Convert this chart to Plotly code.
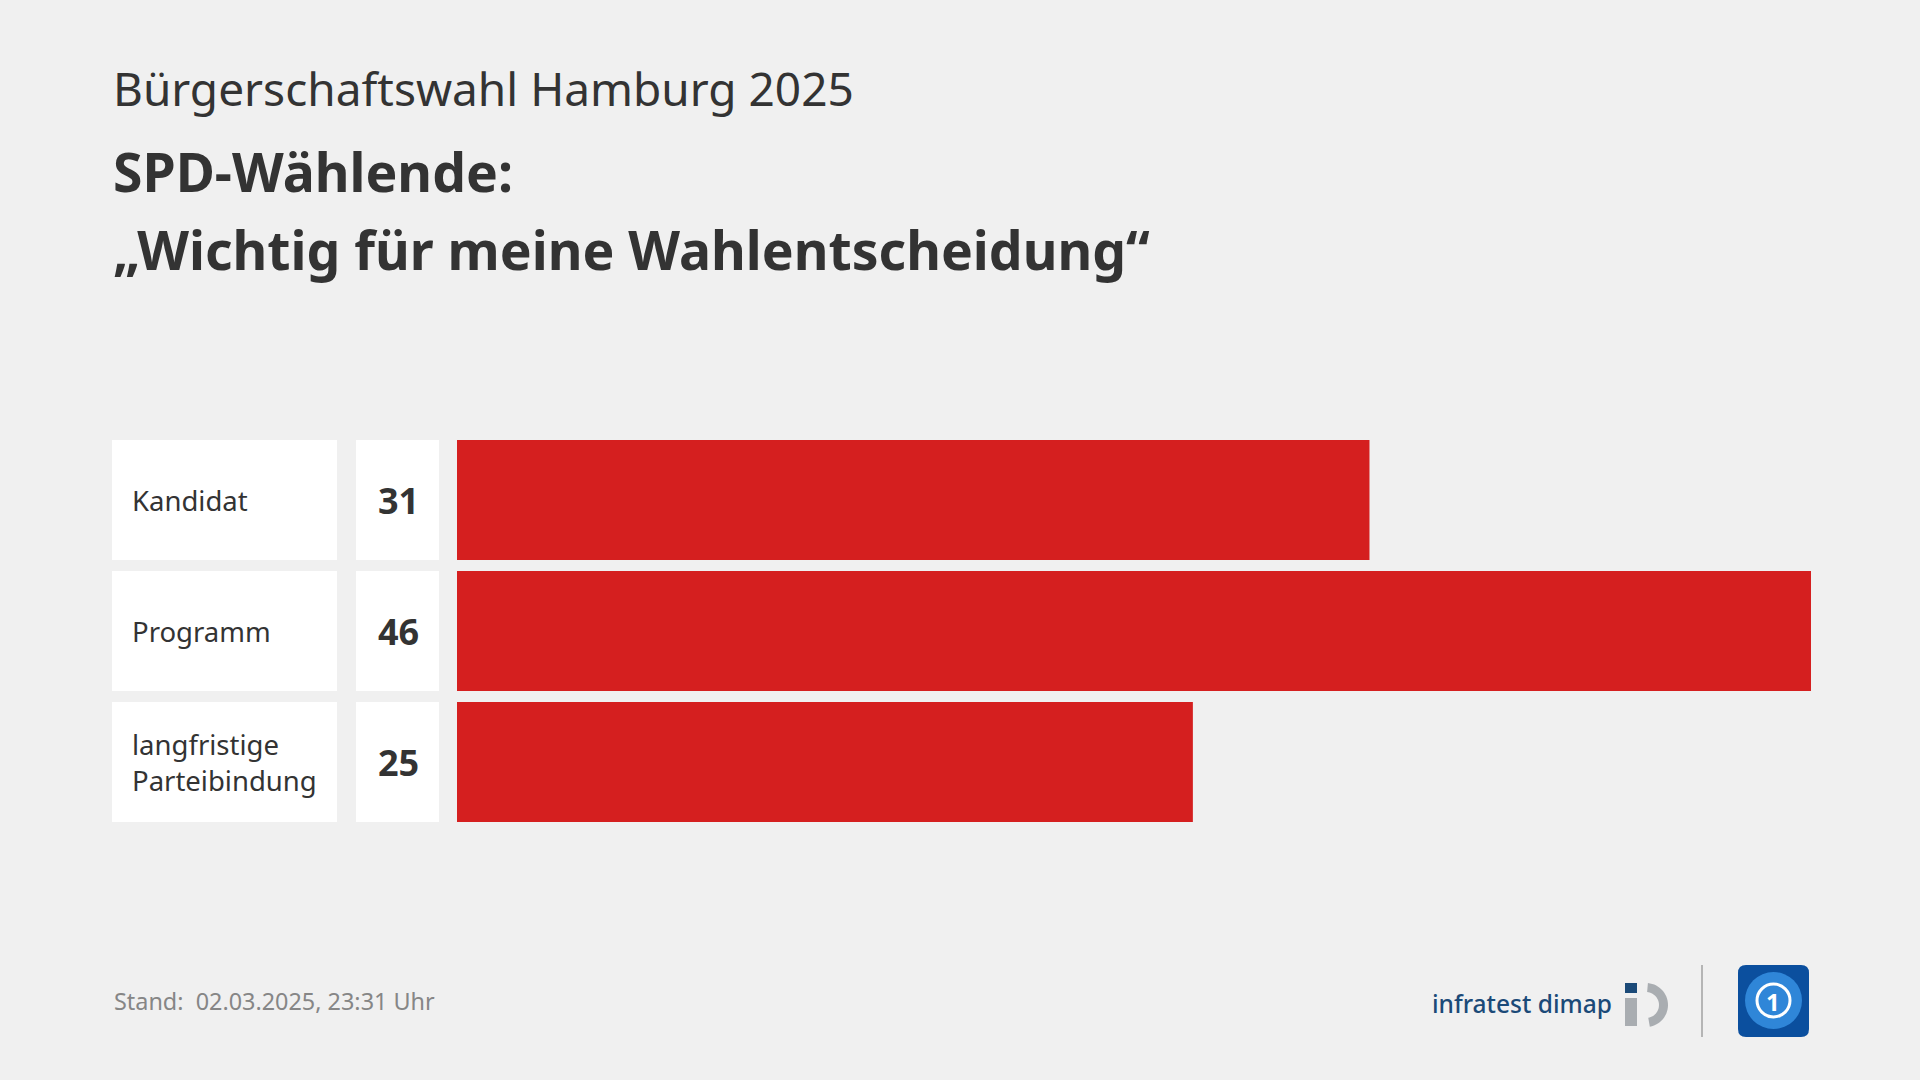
import numpy as np
import plotly.graph_objects as go

# ---------------- data ----------------
categories = ["Kandidat", "Programm", "langfristige<br>Parteibindung"]
values = [31, 46, 25]
value_labels = ["31", "46", "25"]

subtitle = "Bürgerschaftswahl Hamburg 2025"
title_lines = ["SPD-Wählende:", "„Wichtig für meine Wahlentscheidung“"]
footer = "Stand:  02.03.2025, 23:31 Uhr"
brand = "infratest dimap"

# ---------------- style ----------------
W, H = 1920, 1080
BG = "#f0f0f0"
RED = "#d51f1f"
TXT = "#333333"
FONT = "Noto Sans"


def px(x):
    return x / W


def py(y):
    return 1 - y / H


fig = go.Figure()

# white label boxes
fig.add_trace(go.Bar(y=categories, x=[1] * len(categories), orientation="h",
                     marker=dict(color="white", line=dict(width=0)),
                     xaxis="x2", yaxis="y", hoverinfo="skip", showlegend=False))
# white number boxes
fig.add_trace(go.Bar(y=categories, x=[1] * len(categories), orientation="h",
                     marker=dict(color="white", line=dict(width=0)),
                     xaxis="x3", yaxis="y", hoverinfo="skip", showlegend=False))
# value bars
fig.add_trace(go.Bar(y=categories, x=values, orientation="h",
                     marker=dict(color=RED, line=dict(width=0)),
                     xaxis="x", yaxis="y", hoverinfo="skip", showlegend=False))

annotations = []
# subtitle + title
annotations.append(dict(text=subtitle, x=px(111), y=py(88), xref="paper", yref="paper",
                        xanchor="left", yanchor="middle", showarrow=False,
                        font=dict(family=FONT, size=46, color=TXT)))
for i, line in enumerate(title_lines):
    annotations.append(dict(text="<b>" + line + "</b>", x=px(111), y=py(171 + 78 * i),
                            xref="paper", yref="paper", xanchor="left", yanchor="middle",
                            showarrow=False, font=dict(family=FONT, size=53.5, color=TXT)))

# row labels and numbers
for cat, lab in zip(categories, value_labels):
    annotations.append(dict(text=cat, x=px(130), y=cat, xref="paper", yref="y",
                            xanchor="left", yanchor="middle", align="left", showarrow=False,
                            font=dict(family=FONT, size=27.5, color=TXT)))
    annotations.append(dict(text="<b>" + lab + "</b>", x=px(421), y=cat, xref="paper", yref="y",
                            xanchor="right", yanchor="middle", showarrow=False,
                            font=dict(family=FONT, size=36, color=TXT)))

# footer
annotations.append(dict(text=footer, x=px(112), y=py(1001), xref="paper", yref="paper",
                        xanchor="left", yanchor="middle", showarrow=False,
                        font=dict(family=FONT, size=23.4, color="#868686")))
# brand text
annotations.append(dict(text=brand, x=px(1614), y=py(1003), xref="paper", yref="paper",
                        xanchor="right", yanchor="middle", showarrow=False,
                        font=dict(family=FONT, size=24.5, color="#1b4a78", weight=500)))
# tagesschau "1"
annotations.append(dict(text="<b>1</b>", x=px(1773), y=py(1001), xref="paper", yref="paper",
                        xanchor="center", yanchor="middle", showarrow=False,
                        font=dict(family=FONT, size=24, color="white")))

shapes = []
# infratest logo: blue square, gray stem, gray arc
shapes.append(dict(type="rect", xref="paper", yref="paper", x0=px(1625), x1=px(1637),
                   y0=py(993), y1=py(983), fillcolor="#1b4a78", line=dict(width=0)))
shapes.append(dict(type="rect", xref="paper", yref="paper", x0=px(1625), x1=px(1637),
                   y0=py(1026), y1=py(998), fillcolor="#a9adb1", line=dict(width=0)))
ang = np.linspace(np.deg2rad(-80), np.deg2rad(85), 30)
cx, cy, r_out, r_in = 1646, 1005, 22, 13
outer = [(cx + r_out * np.cos(a), cy - r_out * np.sin(a)) for a in ang]
inner = [(cx + r_in * np.cos(a), cy - r_in * np.sin(a)) for a in ang[::-1]]
pts = outer + inner
path = "M " + " L ".join(f"{px(x):.5f},{py(y):.5f}" for x, y in pts) + " Z"
shapes.append(dict(type="path", xref="paper", yref="paper", path=path,
                   fillcolor="#a9adb1", line=dict(width=0)))
# separator
shapes.append(dict(type="line", xref="paper", yref="paper", x0=px(1702), x1=px(1702),
                   y0=py(965), y1=py(1037), line=dict(color="#b5b5b5", width=2)))
# tagesschau rounded square
x0, x1, y0, y1, rr = 1738, 1809, 965, 1037, 8
rp = (f"M {px(x0+rr)},{py(y0)} L {px(x1-rr)},{py(y0)} Q {px(x1)},{py(y0)} {px(x1)},{py(y0+rr)} "
      f"L {px(x1)},{py(y1-rr)} Q {px(x1)},{py(y1)} {px(x1-rr)},{py(y1)} "
      f"L {px(x0+rr)},{py(y1)} Q {px(x0)},{py(y1)} {px(x0)},{py(y1-rr)} "
      f"L {px(x0)},{py(y0+rr)} Q {px(x0)},{py(y0)} {px(x0+rr)},{py(y0)} Z")
shapes.append(dict(type="path", xref="paper", yref="paper", path=rp,
                   fillcolor="#0b4f9e", line=dict(width=0)))
shapes.append(dict(type="circle", xref="paper", yref="paper", x0=px(1745), x1=px(1802),
                   y0=py(1029), y1=py(972), fillcolor="#2f86d8", line=dict(width=0)))
shapes.append(dict(type="circle", xref="paper", yref="paper", x0=px(1757), x1=px(1790),
                   y0=py(1017), y1=py(984), fillcolor="rgba(0,0,0,0)",
                   line=dict(color="white", width=3)))

fig.update_layout(
    width=W, height=H,
    margin=dict(l=0, r=0, t=0, b=0),
    paper_bgcolor=BG, plot_bgcolor=BG,
    barmode="overlay", bargap=11 / 131,
    showlegend=False,
    xaxis=dict(domain=[px(457), px(1811)], range=[0, max(values)], visible=False,
               anchor="y", fixedrange=True),
    xaxis2=dict(domain=[px(112), px(337)], range=[0, 1], visible=False, anchor="y",
                fixedrange=True),
    xaxis3=dict(domain=[px(356), px(439)], range=[0, 1], visible=False, anchor="y",
                fixedrange=True),
    yaxis=dict(domain=[py(827.5), py(434.5)], type="category",
               categoryorder="array", categoryarray=categories,
               autorange="reversed", visible=False, anchor="x", fixedrange=True),
    annotations=annotations,
    shapes=shapes,
)

fig.write_html("out.html", post_script="document.body.style.margin='0';",
               config={"displayModeBar": False})
